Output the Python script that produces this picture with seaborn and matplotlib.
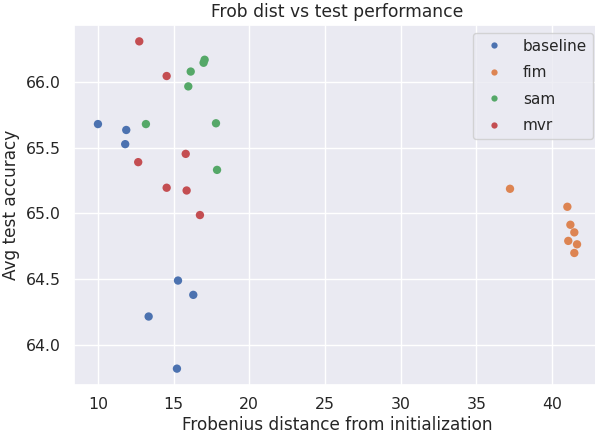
import matplotlib
matplotlib.use("Agg")
import matplotlib.pyplot as plt
import pandas as pd
import seaborn as sns

sns.set_theme(style="darkgrid")
plt.rcParams.update({
    "axes.titlesize": 12.3,
    "axes.labelsize": 12.2,
    "xtick.labelsize": 11.3,
    "ytick.labelsize": 11.3,
    "legend.fontsize": 11,
    "xtick.major.pad": 2.5,
    "ytick.major.pad": 3.5,
})

baseline_x = [10.0, 11.87, 11.8, 15.29, 16.3, 13.35, 15.22]
baseline_y = [65.68, 65.635, 65.527, 64.488, 64.379, 64.214, 63.817]

fim_x = [37.23, 41.02, 41.22, 41.48, 41.08, 41.66, 41.48]
fim_y = [65.187, 65.05, 64.913, 64.855, 64.79, 64.764, 64.698]

sam_x = [17.05, 16.98, 16.13, 15.97, 13.17, 17.8, 17.87]
sam_y = [66.17, 66.147, 66.08, 65.967, 65.68, 65.686, 65.331]

mvr_x = [12.73, 14.54, 15.8, 12.66, 14.54, 15.86, 16.74]
mvr_y = [66.31, 66.046, 65.453, 65.39, 65.195, 65.174, 64.987]

frames = []
for name, xs, ys in [("baseline", baseline_x, baseline_y), ("fim", fim_x, fim_y),
                     ("sam", sam_x, sam_y), ("mvr", mvr_x, mvr_y)]:
    frames.append(pd.DataFrame({"frob": xs, "acc": ys, "method": name}))
df = pd.concat(frames, ignore_index=True)

fig = plt.figure(figsize=(5.95, 4.34), dpi=100)
# axes runs slightly past the right edge, as in the cropped original
ax = fig.add_axes([74 / 595, (434 - 385) / 434, 527 / 595, 360 / 434])

sns.scatterplot(data=df, x="frob", y="acc", hue="method", ax=ax, s=36, linewidth=0)
ax.legend(loc="upper right", borderaxespad=0.5, labelspacing=0.75, handletextpad=0.9,
          markerscale=0.75)
ax.set_title("Frob dist vs test performance")
ax.set_xlabel("Frobenius distance from initialization", labelpad=3)
ax.set_ylabel("Avg test accuracy")

plt.savefig("out.png")
